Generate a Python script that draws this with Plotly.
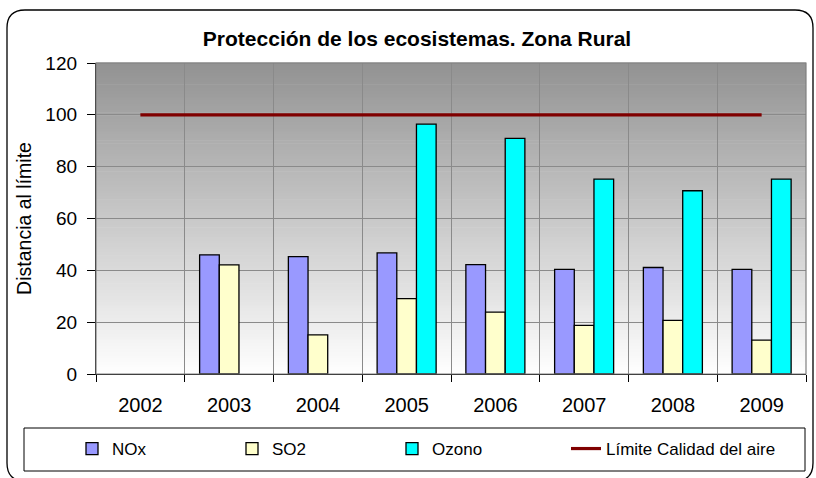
import plotly.graph_objects as go

# ---- data ----
years = ["2002", "2003", "2004", "2005", "2006", "2007", "2008", "2009"]
nox = [None, 46.0, 45.3, 46.7, 42.2, 40.4, 41.1, 40.4]
so2 = [None, 42.1, 15.1, 29.1, 23.9, 18.8, 20.7, 13.1]
ozono = [None, None, None, 96.4, 90.9, 75.2, 70.7, 75.2]
limite = [100, 100, 100, 100, 100, 100, 100, 100]
y_ticks = [0, 20, 40, 60, 80, 100, 120]

title_text = "Protección de los ecosistemas. Zona Rural"
y_title = "Distancia al límite"

# ---- layout geometry (pixels) ----
W, H = 816, 478
ML, MR, MT, MB = 96, 10, 63, 104
PW, PH = W - ML - MR, H - MT - MB


def fx(x):
    return (x - ML) / PW


def fy(y):
    return (H - MB - y) / PH


FONT = "Liberation Sans, Arial, sans-serif"

fig = go.Figure()
fig.add_trace(go.Bar(x=years, y=nox, name="NOx",
                     marker=dict(color="#9999FF", line=dict(color="#000000", width=1.3))))
fig.add_trace(go.Bar(x=years, y=so2, name="SO2",
                     marker=dict(color="#FFFFCC", line=dict(color="#000000", width=1.3))))
fig.add_trace(go.Bar(x=years, y=ozono, name="Ozono",
                     marker=dict(color="#00FFFF", line=dict(color="#000000", width=1.3))))
fig.add_trace(go.Scatter(x=years, y=limite, name="Límite Calidad del aire", mode="lines",
                         line=dict(color="#800000", width=3.2), legend="legend2"))

shapes = []
# gradient background of plot area
N = 100
for i in range(N):
    f = (i + 0.5) / N
    v = int(round(255 - (255 - 146) * f))
    shapes.append(dict(type="rect", xref="x domain", yref="y domain",
                       x0=0, x1=1, y0=i / N, y1=(i + 1) / N + 0.002,
                       fillcolor=f"rgb({v},{v},{v})", line=dict(width=0), layer="below"))
# plot area border (top/right gray)
shapes.append(dict(type="rect", xref="paper", yref="paper", x0=0, x1=1, y0=0, y1=1,
                   line=dict(color="#808080", width=1.2), fillcolor="rgba(0,0,0,0)", layer="above"))
# outer rounded chart border
l, r, t, b, rad = 7, 813, 10, 481, 18
path = (f"M {fx(l + rad)},{fy(t)} L {fx(r - rad)},{fy(t)} Q {fx(r)},{fy(t)} {fx(r)},{fy(t + rad)} "
        f"L {fx(r)},{fy(b - rad)} Q {fx(r)},{fy(b)} {fx(r - rad)},{fy(b)} "
        f"L {fx(l + rad)},{fy(b)} Q {fx(l)},{fy(b)} {fx(l)},{fy(b - rad)} "
        f"L {fx(l)},{fy(t + rad)} Q {fx(l)},{fy(t)} {fx(l + rad)},{fy(t)} Z")
shapes.append(dict(type="path", xref="paper", yref="paper", path=path,
                   line=dict(color="#000000", width=1.3), fillcolor="rgba(0,0,0,0)"))
# legend box
shapes.append(dict(type="rect", xref="paper", yref="paper",
                   x0=fx(24), x1=fx(805), y0=fy(471), y1=fy(428),
                   line=dict(color="#000000", width=1), fillcolor="rgba(0,0,0,0)"))

fig.update_layout(
    width=W, height=H,
    margin=dict(l=ML, r=MR, t=MT, b=MB, autoexpand=False),
    paper_bgcolor="#FFFFFF", plot_bgcolor="rgba(0,0,0,0)",
    font=dict(family=FONT, color="#000000"),
    barmode="group", bargap=0.335, bargroupgap=0,
    title=dict(text=f"<b>{title_text}</b>", xref="container", x=417 / W, xanchor="center",
               yref="container", y=1 - 38.5 / H, yanchor="middle",
               font=dict(size=21, family=FONT)),
    showlegend=True,
    legend=dict(orientation="h", x=fx(72), xanchor="left", y=fy(449), yanchor="middle",
                font=dict(size=17, family=FONT), bgcolor="rgba(0,0,0,0)",
                entrywidth=115, entrywidthmode="pixels", traceorder="normal"),
    legend2=dict(orientation="h", x=fx(566), xanchor="left", y=fy(449), yanchor="middle",
                 font=dict(size=17, family=FONT), bgcolor="rgba(0,0,0,0)"),
    shapes=shapes,
)
fig.update_xaxes(type="category", showline=True, linecolor="#000000", linewidth=1.3,
                 ticks="outside", tickson="boundaries", ticklen=7, tickcolor="#000000",
                 showgrid=True, gridcolor="#8a8a8a", gridwidth=1,
                 tickfont=dict(size=20, family=FONT), ticklabelstandoff=13,
                 fixedrange=True)
fig.update_yaxes(range=[0, 120], tickvals=y_ticks, showline=True, linecolor="#000000",
                 linewidth=1.3, ticks="outside", ticklen=8, tickcolor="#000000",
                 showgrid=True, gridcolor="#8a8a8a", gridwidth=1, zeroline=False,
                 tickfont=dict(size=19, family=FONT), ticklabelstandoff=6,
                 title=dict(text=y_title, font=dict(size=19.5, family=FONT), standoff=8),
                 fixedrange=True)

fig.write_html("out.html", config={"displayModeBar": False},
               post_script="document.body.style.margin='0';")
